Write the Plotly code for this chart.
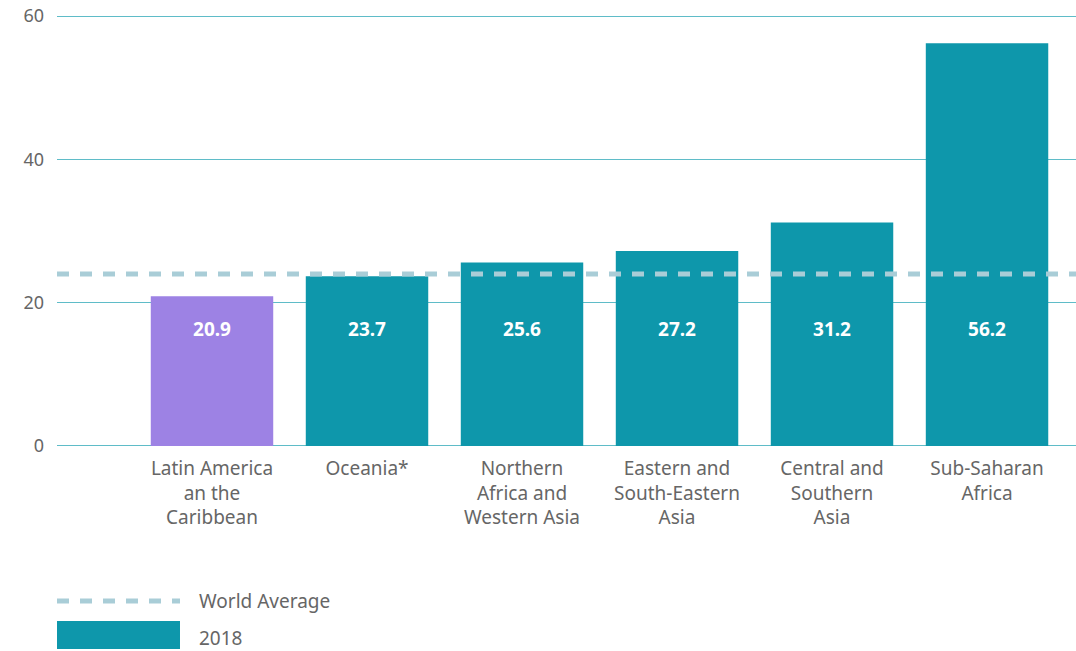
import plotly.graph_objects as go

categories = ["Latin America<br>an the<br>Caribbean", "Oceania*", "Northern<br>Africa and<br>Western Asia",
              "Eastern and<br>South-Eastern<br>Asia", "Central and<br>Southern<br>Asia", "Sub-Saharan<br>Africa"]
values_2018 = [20.9, 23.7, 25.6, 27.2, 31.2, 56.2]
value_labels = ["20.9", "23.7", "25.6", "27.2", "31.2", "56.2"]
world_average = 24.0
y_ticks = [0, 20, 40, 60]

TEAL = "#0e97ab"
PURPLE = "#9d82e4"
DASH = "#a9cdd7"
GRID = "#5fbcc8"
TXT = "#666666"
FONT = "Noto Sans"

colors = [PURPLE] + [TEAL] * (len(values_2018) - 1)
xpos = list(range(len(categories)))

fig = go.Figure()
fig.add_trace(go.Bar(x=xpos, y=values_2018, marker=dict(color=colors, line=dict(width=0)),
                     width=0.79, showlegend=False, hoverinfo="y"))
fig.add_trace(go.Scatter(x=xpos, y=[16] * len(xpos), mode="text", text=value_labels,
                         textfont=dict(family=FONT, size=19, color="white", weight="bold"),
                         showlegend=False, hoverinfo="skip"))

fig.add_shape(type="line", xref="paper", yref="y", x0=0, x1=1, y0=world_average, y1=world_average,
              line=dict(color=DASH, width=5, dash="12px,11px"), layer="above")

# legend
fig.add_shape(type="line", xref="paper", yref="paper", x0=0, x1=0.1207, y0=-0.3565, y1=-0.3565,
              line=dict(color=DASH, width=5, dash="12px,11px"))
fig.add_shape(type="rect", xref="paper", yref="paper", x0=0, x1=0.1207, y0=-0.4676, y1=-0.4028,
              line=dict(width=0), fillcolor=TEAL)
fig.add_annotation(xref="paper", yref="paper", x=0.1374, y=-0.3565, text="World Average", showarrow=False,
                   xanchor="left", yanchor="middle", font=dict(family=FONT, size=19, color=TXT))
fig.add_annotation(xref="paper", yref="paper", x=0.1374, y=-0.4421, text="2018", showarrow=False,
                   xanchor="left", yanchor="middle", font=dict(family=FONT, size=19, color=TXT))

fig.update_layout(
    width=1076, height=651,
    margin=dict(l=57, r=0, t=15, b=204),
    plot_bgcolor="white", paper_bgcolor="white",
    font=dict(family=FONT, size=18, color=TXT),
    xaxis=dict(tickmode="array", tickvals=xpos, ticktext=categories, range=[-1.0, 5.574],
               showgrid=False, zeroline=False, showline=False, ticks="", ticklabelstandoff=8,
               tickfont=dict(family=FONT, size=19, color=TXT)),
    yaxis=dict(range=[-0.15, 60.15], tickvals=y_ticks, showgrid=True, gridcolor=GRID, gridwidth=1,
               zeroline=False, showline=False, ticks="", ticklabelstandoff=12,
               tickfont=dict(family=FONT, size=18, color=TXT)),
)

fig.write_html("out.html", config={"displayModeBar": False},
               post_script="document.body.style.margin='0';document.body.style.overflow='hidden';")
